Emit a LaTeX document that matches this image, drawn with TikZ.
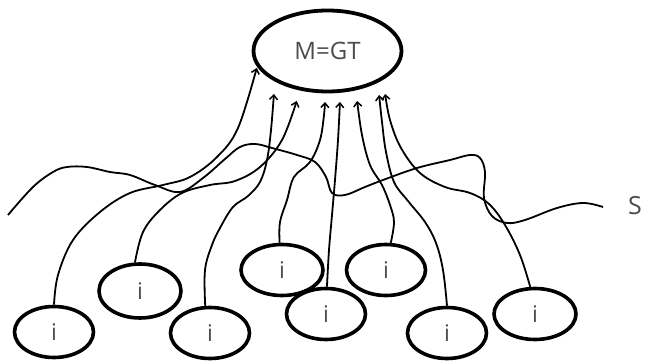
\documentclass[tikz,border=0pt]{standalone}
\usepackage{fontspec}
\setmainfont{Open Sans}
\usetikzlibrary{shapes.geometric,arrows.meta}
\definecolor{txt}{gray}{0.3}
\tikzset{
  small/.style={ellipse, draw=black, line width=3.6pt, minimum width=79pt, minimum height=51pt, inner sep=0pt, text=txt, font=\fontsize{23}{27}\selectfont},
  big/.style={ellipse, draw=black, line width=3.8pt, minimum width=148pt, minimum height=81pt, inner sep=0pt, text=txt, font=\fontsize{24}{28}\selectfont},
  conn/.style={draw=black, line width=1.8pt, -{Straight Barb[length=4.5pt,width=8pt,line width=1.5pt]}, shorten >=1pt},
  wave/.style={draw=black, line width=1.8pt},
  lbl/.style={text=txt, font=\fontsize{25}{29}\selectfont, inner sep=0pt}
}
\begin{document}
\begin{tikzpicture}[x=1pt,y=-1pt]
\useasboundingbox (0,0) rectangle (646,363);
\node[big] (M) at (327.5,51) {M=GT};
\node[small] (e1) at (54,332) {i};
\node[small, minimum width=82pt, minimum height=54pt] (e2) at (140,291) {i};
\node[small] (e3) at (210,333) {i};
\node[small, minimum width=82pt] (e4) at (282,270) {i};
\node[small] (e5) at (326,314) {i};
\node[small] (e6) at (386,270) {i};
\node[small] (e7) at (447,333) {i};
\node[small, minimum width=82pt] (e8) at (535,314) {i};
\node[lbl] (S) at (635,206) {S};
\coordinate (w0) at (8,215);
\coordinate (w1) at (603,207);
% wavy line S
\draw[wave] plot[smooth, tension=0.6] coordinates {(w0) (33,187) (53,172) (67,167) (87,167) (110,172) (130,175) (155,185) (180,192) (203,178) (225,159) (240,147) (255,144) (272,148) (297,155) (315,162) (326,177) (332,193) (345,195) (365,187) (383,180) (417,168) (450,160) (470,155) (480,158) (485,172) (484,198) (492,216) (507,223) (525,220) (557,208) (583,203) (w1)};
% connectors
\draw[conn] plot[smooth, tension=0.6] coordinates {(e1.north) (58,275) (73,240) (100,212) (130,193) (163,185) (190,177) (217,157) (238,128) (257,67)};
\draw[conn] plot[smooth, tension=0.6] coordinates {(e2.100) (143,232) (160,210) (182,193) (210,185) (235,181) (260,167) (282,140) (297,100)};
\draw[conn] plot[smooth, tension=0.6] coordinates {(e3.100) (205,270) (212,245) (220,228) (233,207) (248,196) (260,182) (267,160) (271,130) (274,93)};
\draw[conn] plot[smooth, tension=0.6] coordinates {(e4.95) (280,222) (287,200) (294,177) (310,162) (320,140) (324,115) (325,101)};
\draw[conn] plot[smooth, tension=0.6] coordinates {(e5.88) (329,250) (332,215) (335,180) (338,140) (340,101)};
\draw[conn] plot[smooth, tension=0.6] coordinates {(e6.80) (394,222) (390,205) (382,185) (370,165) (362,135) (357,100)};
\draw[conn] plot[smooth, tension=0.6] coordinates {(e7.90) (443,270) (436,243) (425,222) (408,201) (394,182) (386,152) (382,122) (379,94)};
\draw[conn] plot[smooth, tension=0.6] coordinates {(e8.100) (520,255) (505,225) (489,204) (470,193) (445,187) (420,173) (401,148) (390,120) (385,93)};
\end{tikzpicture}
\end{document}
